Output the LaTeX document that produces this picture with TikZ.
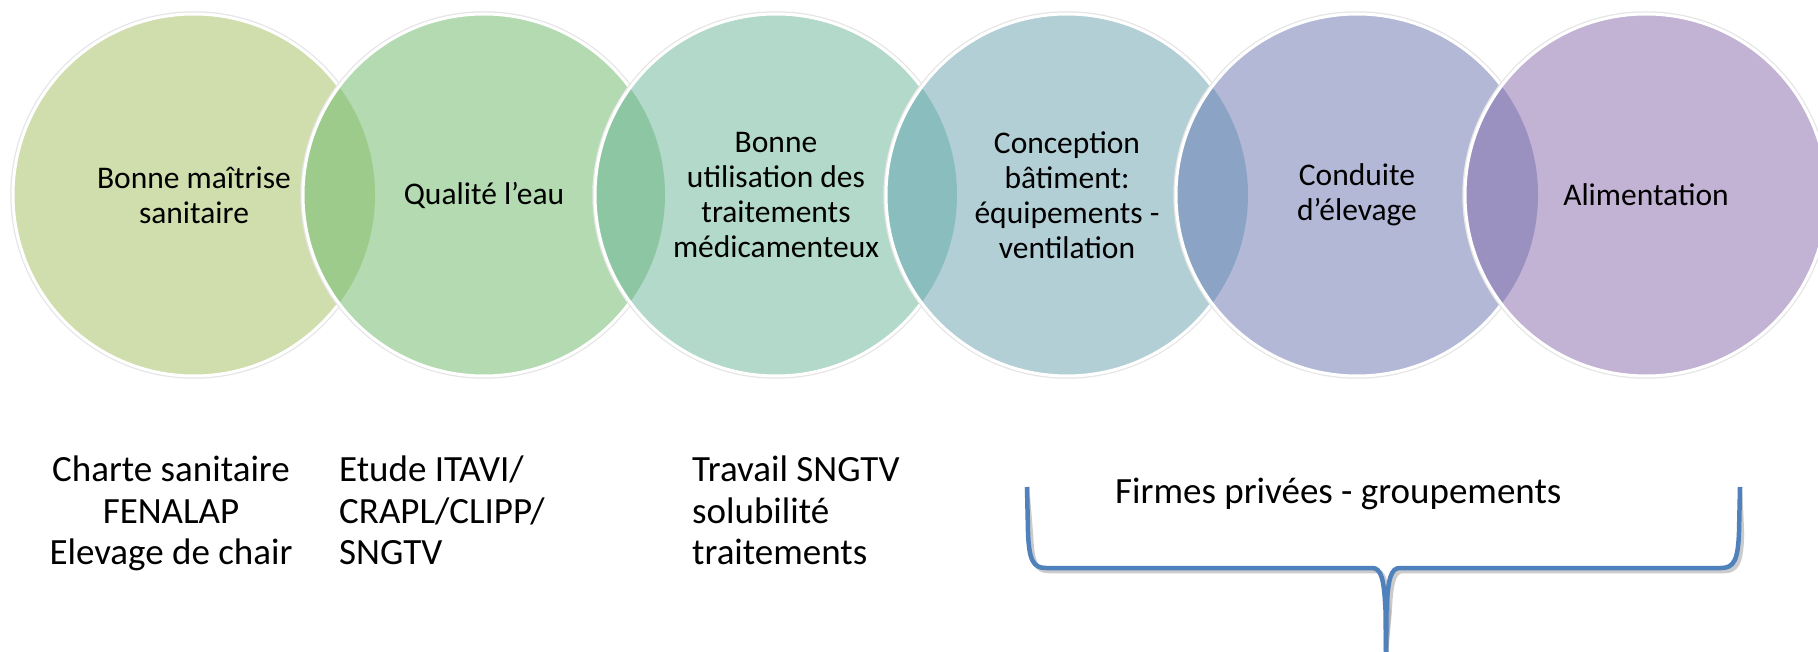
\documentclass[tikz,border=0pt]{standalone}
\usepackage{fontspec}
\setmainfont{Carlito}
\definecolor{cA}{RGB}{208,222,173}
\definecolor{cB}{RGB}{179,218,176}
\definecolor{cC}{RGB}{178,217,201}
\definecolor{cD}{RGB}{179,207,214}
\definecolor{cE}{RGB}{179,184,214}
\definecolor{cF}{RGB}{194,178,211}
\definecolor{lAB}{RGB}{157,203,139}
\definecolor{lBC}{RGB}{141,198,163}
\definecolor{lCD}{RGB}{137,189,190}
\definecolor{lDE}{RGB}{139,163,196}
\definecolor{lEF}{RGB}{155,145,193}
\definecolor{braceblue}{RGB}{79,129,189}
\begin{document}
\begin{tikzpicture}[x=1pt,y=-1pt,
  halo/.style={draw=black!10, line width=1.5pt},
  rim/.style={draw=white, line width=3pt},
  bubtext/.style={align=center, font=\fontsize{31.5}{35}\selectfont, text=black, inner sep=0pt},
  lowtext/.style={font=\fontsize{37}{41.5}\selectfont, text=black, inner sep=0pt},
  bracepath/.style={draw=braceblue, line width=4.5pt},
  braceshade/.style={draw=black!45, line width=4.5pt, opacity=0.45}]
\useasboundingbox (0,0) rectangle (1818,652);
\fill[white] (0,0) rectangle (1818,652);
\def\R{181}
\coordinate (c1) at (194,195);
\coordinate (c2) at (484,195);
\coordinate (c3) at (776,195);
\coordinate (c4) at (1067,195);
\coordinate (c5) at (1357,195);
\coordinate (c6) at (1646,195);
% circle 1
\draw[halo] (c1) circle[radius=\R+2];
\fill[cA] (c1) circle[radius=\R];
\draw[rim] (c1) circle[radius=\R];
% circle 2
\draw[halo] (c2) circle[radius=\R+2];
\fill[cB] (c2) circle[radius=\R];
\begin{scope}\clip (c1) circle[radius=\R]; \fill[lAB] (c2) circle[radius=\R];\end{scope}
\draw[rim] (c2) circle[radius=\R];
% circle 3
\draw[halo] (c3) circle[radius=\R+2];
\fill[cC] (c3) circle[radius=\R];
\begin{scope}\clip (c2) circle[radius=\R]; \fill[lBC] (c3) circle[radius=\R];\end{scope}
\draw[rim] (c3) circle[radius=\R];
% circle 4
\draw[halo] (c4) circle[radius=\R+2];
\fill[cD] (c4) circle[radius=\R];
\begin{scope}\clip (c3) circle[radius=\R]; \fill[lCD] (c4) circle[radius=\R];\end{scope}
\draw[rim] (c4) circle[radius=\R];
% circle 5
\draw[halo] (c5) circle[radius=\R+2];
\fill[cE] (c5) circle[radius=\R];
\begin{scope}\clip (c4) circle[radius=\R]; \fill[lDE] (c5) circle[radius=\R];\end{scope}
\draw[rim] (c5) circle[radius=\R];
% circle 6
\draw[halo] (c6) circle[radius=\R+2];
\fill[cF] (c6) circle[radius=\R];
\begin{scope}\clip (c5) circle[radius=\R]; \fill[lEF] (c6) circle[radius=\R];\end{scope}
\draw[rim] (c6) circle[radius=\R];
% circle texts
\node[bubtext] (t1) at (c1) {Bonne maîtrise\\sanitaire};
\node[bubtext] (t2) at (c2) {Qualité l’eau};
\node[bubtext] (t3) at (c3) {Bonne\\utilisation des\\traitements\\médicamenteux};
\node[bubtext] (t4) at (c4) {Conception\\bâtiment:\\équipements -\\ventilation};
\node[bubtext] (t5) at (c5) {Conduite\\d’élevage};
\node[bubtext] (t6) at (c6) {Alimentation};
% lower texts
\node[lowtext, align=center, anchor=north] (n1) at (171,456) {Charte sanitaire\\FENALAP\\Elevage de chair};
\node[lowtext, align=left, anchor=north west] (n2) at (339,456) {Etude ITAVI/\\CRAPL/CLIPP/\\SNGTV};
\node[lowtext, align=left, anchor=north west] (n3) at (692,456) {Travail SNGTV\\solubilité\\traitements};
\node[lowtext, anchor=north west] (n4) at (1115,478) {Firmes privées - groupements};
% brace
\coordinate (bl) at (1027,487);
\coordinate (br) at (1740,487);
\coordinate (bt) at (1386,652);
\begin{scope}[shift={(3,3)}]
\draw[braceshade] (bl) -- (1028,532) .. controls (1029,560) and (1033,568) .. (1046,568) -- (1372,568) .. controls (1381,568) and (1384,578) .. (1385.5,610) -- (bt);
\draw[braceshade] (br) -- (1739,532) .. controls (1738,560) and (1734,568) .. (1721,568) -- (1400,568) .. controls (1391,568) and (1388,578) .. (1386.5,610) -- (bt);
\end{scope}
\draw[bracepath] (bl) -- (1028,532) .. controls (1029,560) and (1033,568) .. (1046,568) -- (1372,568) .. controls (1381,568) and (1384,578) .. (1385.5,610) -- (bt);
\draw[bracepath] (br) -- (1739,532) .. controls (1738,560) and (1734,568) .. (1721,568) -- (1400,568) .. controls (1391,568) and (1388,578) .. (1386.5,610) -- (bt);
\end{tikzpicture}
\end{document}
